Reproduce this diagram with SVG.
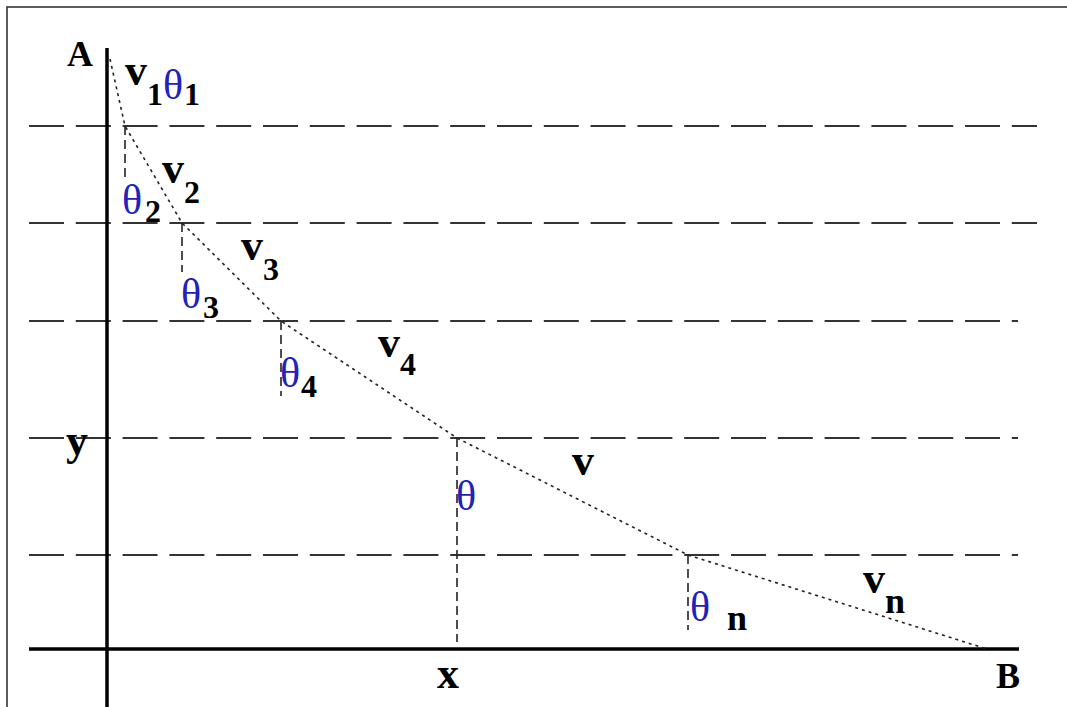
<svg xmlns="http://www.w3.org/2000/svg" width="1067" height="707" viewBox="0 0 1067 707">
<style>
.grid{stroke:#333;stroke-width:2;stroke-dasharray:35 11.8;fill:none}
.axis{stroke:#000;stroke-width:3.5;fill:none}
.path{stroke:#222;stroke-width:1.6;stroke-dasharray:3 4;fill:none}
.drop{stroke:#222;stroke-width:1.6;stroke-dasharray:9 5;fill:none}
.b{font-family:"Liberation Serif",serif;font-weight:bold;fill:#000}
.cap{font-size:36px}
.lc{font-size:44px}
.sub{font-size:32px}
.th{font-family:"Liberation Serif",serif;font-size:42px;fill:#2222bb}
</style>
<rect x="0" y="0" width="1067" height="707" fill="#fff"/>
<rect x="7" y="7" width="1080" height="720" fill="none" stroke="#333" stroke-width="1.6"/>
<g id="gridlines">
<line class="grid" x1="29" y1="126" x2="1037" y2="126"/>
<line class="grid" x1="29" y1="223" x2="1037" y2="223"/>
<line class="grid" x1="29" y1="321" x2="1018" y2="321"/>
<line class="grid" x1="29" y1="438" x2="1018" y2="438"/>
<line class="grid" x1="29" y1="555" x2="1018" y2="555"/>
</g>
<g id="axes">
<line class="axis" x1="107" y1="48" x2="107" y2="707"/>
<line class="axis" x1="29" y1="649" x2="1019" y2="649"/>
</g>
<g id="connectors">
<polyline class="path" points="110,59 125,126 182,223 281,321 457,438 688,555 987,649"/>
<line class="drop" x1="125" y1="126" x2="125" y2="178"/>
<line class="drop" x1="182" y1="223" x2="182" y2="272"/>
<line class="drop" x1="281" y1="321" x2="281" y2="396"/>
<line class="drop" x1="457" y1="438" x2="457" y2="642"/>
<line class="drop" x1="688" y1="555" x2="688" y2="630"/>
</g>
<g id="labels">
<text class="b cap" x="67" y="66">A</text>
<text class="b cap" x="996" y="688">B</text>
<text class="b lc" x="66" y="455">y</text>
<text class="b lc" x="437" y="688">x</text>
<g id="v1"><text class="b lc" x="125" y="85">v</text><text class="b sub" x="147" y="105">1</text></g>
<g id="th1"><text class="th" x="163" y="99">θ</text><text class="b sub" x="184" y="105">1</text></g>
<g id="v2"><text class="b lc" x="162" y="183">v</text><text class="b sub" x="184" y="203">2</text></g>
<g id="th2"><text class="th" x="122" y="214">θ</text><text class="b sub" x="145" y="222">2</text></g>
<g id="v3"><text class="b lc" x="241" y="260">v</text><text class="b sub" x="263" y="280">3</text></g>
<g id="th3"><text class="th" x="181" y="308">θ</text><text class="b sub" x="203" y="318">3</text></g>
<g id="v4"><text class="b lc" x="378" y="357">v</text><text class="b sub" x="400" y="375">4</text></g>
<g id="th4"><text class="th" x="280" y="387">θ</text><text class="b sub" x="301" y="397">4</text></g>
<g id="v"><text class="b lc" x="572" y="475">v</text></g>
<g id="th"><text class="th" x="456" y="510">θ</text></g>
<g id="vn"><text class="b lc" x="863" y="593">v</text><text class="b cap" x="885" y="613">n</text></g>
<g id="thn"><text class="th" x="690" y="621">θ</text><text class="b cap" x="727" y="630">n</text></g>
</g>
</svg>
